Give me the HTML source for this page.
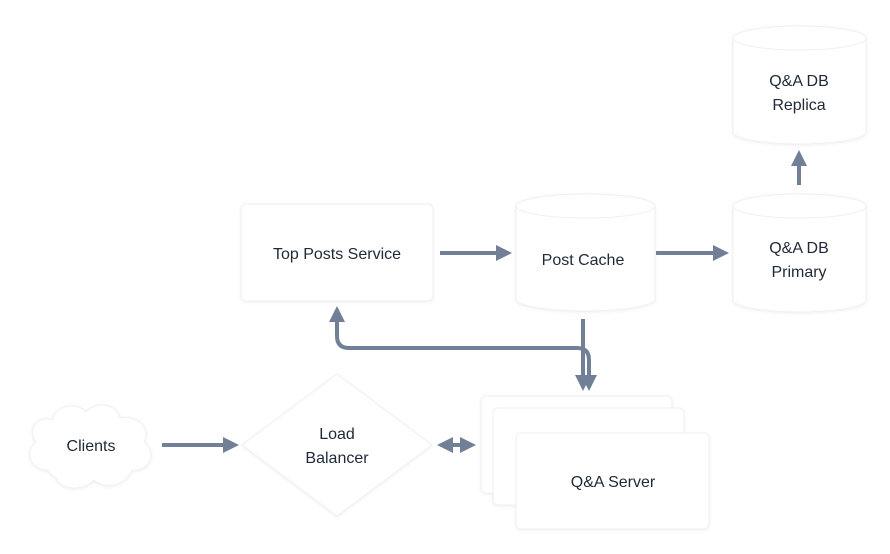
<!DOCTYPE html>
<html><head><style>
html,body{margin:0;padding:0;background:#fff;}
svg{display:block;}
text{font-family:"Liberation Sans",sans-serif;font-size:16px;fill:#1f2937;text-anchor:middle;}
</style></head><body>
<svg width="890" height="554" viewBox="0 0 890 554" xmlns="http://www.w3.org/2000/svg">
<defs>
<marker id="ah" viewBox="0 0 10 10" refX="5" refY="5" markerWidth="4" markerHeight="4" orient="auto-start-reverse">
<path d="M0,0 L10,5 L0,10 z" fill="#718096"/></marker>
<filter id="sh" x="-10%" y="-10%" width="120%" height="120%"><feDropShadow dx="0" dy="1" stdDeviation="1.5" flood-color="#000" flood-opacity="0.06"/></filter>
</defs>
<g fill="#fff" stroke="#efefef" stroke-width="1" filter="url(#sh)">
<rect x="241" y="204" width="192" height="97" rx="5"/>
<path d="M516,206 L516,299 A69.5,12 0 0 0 655,299 L655,206"/>
<ellipse cx="585.5" cy="206" rx="69.5" ry="12"/>
<path d="M733,38 L733,132 A66.5,12 0 0 0 866,132 L866,38"/>
<ellipse cx="799.5" cy="38" rx="66.5" ry="12"/>
<path d="M733,206 L733,300 A66.5,12 0 0 0 866,300 L866,206"/>
<ellipse cx="799.5" cy="206" rx="66.5" ry="12"/>
<polygon points="337,374 432,445 337,516 242,445"/>
<rect x="481" y="396" width="191" height="97" rx="5"/>
<rect x="493" y="408" width="191" height="97" rx="5"/>
<rect x="516" y="433" width="193" height="96" rx="5"/>
<path d="M48,470 C30,470 24,452 36,442 C26,430 38,414 52,420 C56,404 78,402 86,412 C96,400 118,404 120,418 C136,414 152,428 144,442 C158,452 150,472 132,470 C126,486 104,490 94,480 C84,492 60,490 56,478 C52,476 50,474 48,470 Z"/>
</g>
<g stroke="#718096" stroke-width="4" fill="none" stroke-linecap="butt">
<line x1="440" y1="253" x2="504" y2="253" marker-end="url(#ah)"/>
<line x1="656" y1="253" x2="721" y2="253" marker-end="url(#ah)"/>
<line x1="799" y1="185" x2="799" y2="158" marker-end="url(#ah)"/>
<line x1="583" y1="319" x2="583" y2="383" marker-end="url(#ah)"/>
<path d="M589,383 L589,360 Q589,348 577,348 L349,348 Q337,348 337,336 L337,314" marker-start="url(#ah)" marker-end="url(#ah)"/>
<line x1="162" y1="445" x2="231" y2="445" marker-end="url(#ah)"/>
<line x1="445" y1="445" x2="468" y2="445" marker-start="url(#ah)" marker-end="url(#ah)"/>
</g>
<text x="337" y="259">Top Posts Service</text>
<text x="583" y="265">Post Cache</text>
<text x="799" y="86">Q&amp;A DB</text>
<text x="799" y="110">Replica</text>
<text x="799" y="253">Q&amp;A DB</text>
<text x="799" y="277">Primary</text>
<text x="337" y="439">Load</text>
<text x="337" y="463">Balancer</text>
<text x="91" y="451">Clients</text>
<text x="613" y="487">Q&amp;A Server</text>
</svg>
</body></html>
